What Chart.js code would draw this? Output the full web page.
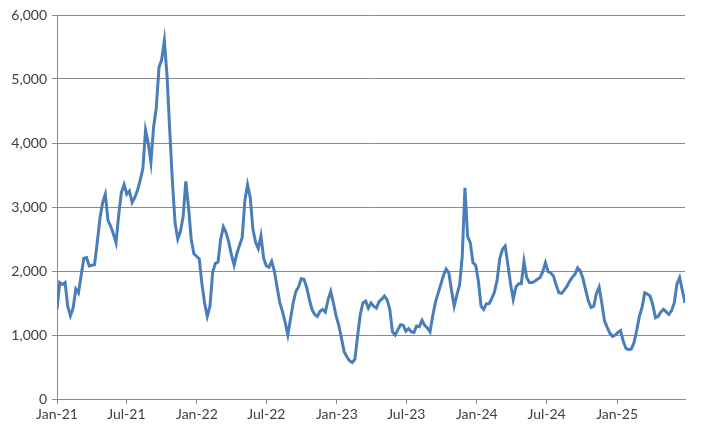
<!DOCTYPE html>
<html>
<head>
<meta charset="utf-8">
<script src="https://cdn.jsdelivr.net/npm/chart.js@4/dist/chart.umd.min.js"></script>
<style>
  html, body { margin: 0; padding: 0; background: #ffffff; }
</style>
</head>
<body>
<canvas id="chart" width="704" height="437"></canvas>
<script>
// weekly readings, first one on 1 Jan 2021
const startDate = '2021-01-01';
const stepDays = 7;
const values = [
  1400, 1820, 1790, 1820, 1450, 1300, 1420, 1720, 1660, 1930,
  2200, 2210, 2080, 2090, 2100, 2450, 2820, 3070, 3200, 2790,
  2700, 2580, 2440, 2880, 3230, 3350, 3200, 3250, 3070, 3150,
  3260, 3420, 3600, 4200, 4000, 3700, 4250, 4550, 5180, 5300,
  5600, 5050, 4200, 3400, 2750, 2500, 2620, 2850, 3400, 3000,
  2500, 2270, 2230, 2190, 1800, 1500, 1290, 1450, 1980, 2120,
  2140, 2500, 2690, 2600, 2450, 2250, 2090, 2270, 2400, 2520,
  3100, 3350, 3150, 2650, 2450, 2350, 2550, 2200, 2080, 2060,
  2150, 2000, 1750, 1510, 1370, 1200, 1000, 1250, 1500, 1680,
  1750, 1880, 1870, 1750, 1560, 1400, 1320, 1290, 1370, 1400,
  1360, 1550, 1680, 1500, 1300, 1150, 950, 740, 660, 600,
  570, 620, 980, 1320, 1500, 1530, 1420, 1500, 1450, 1420,
  1520, 1560, 1610, 1550, 1400, 1050, 1000, 1080, 1160, 1150,
  1060, 1100, 1050, 1040, 1140, 1130, 1230, 1150, 1110, 1050,
  1300, 1510, 1650, 1790, 1930, 2030, 1970, 1700, 1450, 1630,
  1780, 2230, 3300, 2540, 2440, 2130, 2090, 1850, 1450, 1400,
  1490, 1490, 1570, 1670, 1860, 2200, 2340, 2390, 2100, 1800,
  1560, 1750, 1800, 1800, 2150, 1900, 1820, 1820, 1840, 1870,
  1900, 1990, 2130, 1990, 1970, 1920, 1780, 1660, 1650, 1700,
  1760, 1840, 1900, 1950, 2050, 2000, 1880, 1700, 1530, 1430,
  1450, 1650, 1750, 1500, 1220, 1120, 1030, 980, 1000, 1040,
  1070, 900, 790, 770, 780, 880, 1070, 1290, 1430, 1660,
  1640, 1610, 1470, 1270, 1290, 1360, 1400, 1360, 1320, 1380,
  1500, 1800, 1900, 1700, 1500
];

const tickDates = ['2021-01-01', '2021-07-01', '2022-01-01', '2022-07-01', '2023-01-01',
                   '2023-07-01', '2024-01-01', '2024-07-01', '2025-01-01'];
const tickLabels = ['Jan-21', 'Jul-21', 'Jan-22', 'Jul-22', 'Jan-23',
                    'Jul-23', 'Jan-24', 'Jul-24', 'Jan-25'];

const DAY = 86400000;
const t0 = Date.parse(startDate);
const tickDays = tickDates.map(d => Math.round((Date.parse(d) - t0) / DAY));
const points = values.map((v, i) => ({ x: i * stepDays, y: v }));

const axisGrey = '#8a8a8a';
const labelFont = { family: 'Lato', size: 14 };

new Chart(document.getElementById('chart').getContext('2d'), {
  type: 'line',
  data: {
    datasets: [{
      data: points,
      borderColor: '#4a7ebb',
      borderWidth: 3,
      pointRadius: 0,
      tension: 0,
      fill: false,
    }],
  },
  options: {
    responsive: false,
    animation: false,
    layout: { padding: { top: 15, right: 19, bottom: 0, left: 0 } },
    plugins: {
      legend: { display: false },
      tooltip: { enabled: false },
    },
    scales: {
      x: {
        type: 'linear',
        min: 0,
        max: points[points.length - 1].x,
        afterBuildTicks: (scale) => {
          scale.ticks = tickDays.map(v => ({ value: v }));
        },
        afterFit: (scale) => { scale.height = 38; },
        ticks: {
          autoSkip: false,
          maxRotation: 0,
          padding: 2,
          color: '#404040',
          font: labelFont,
          callback: (value, index) => tickLabels[index],
        },
        grid: { drawOnChartArea: false, tickLength: 5, color: axisGrey },
        border: { color: axisGrey },
      },
      y: {
        min: 0,
        max: 6000,
        afterFit: (scale) => { scale.width = 57; },
        ticks: {
          stepSize: 1000,
          padding: 5,
          color: '#404040',
          font: labelFont,
          callback: (value) => value.toLocaleString('en-US'),
        },
        grid: { color: axisGrey, tickLength: 5 },
        border: { color: axisGrey },
      },
    },
  },
});
</script>
</body>
</html>
